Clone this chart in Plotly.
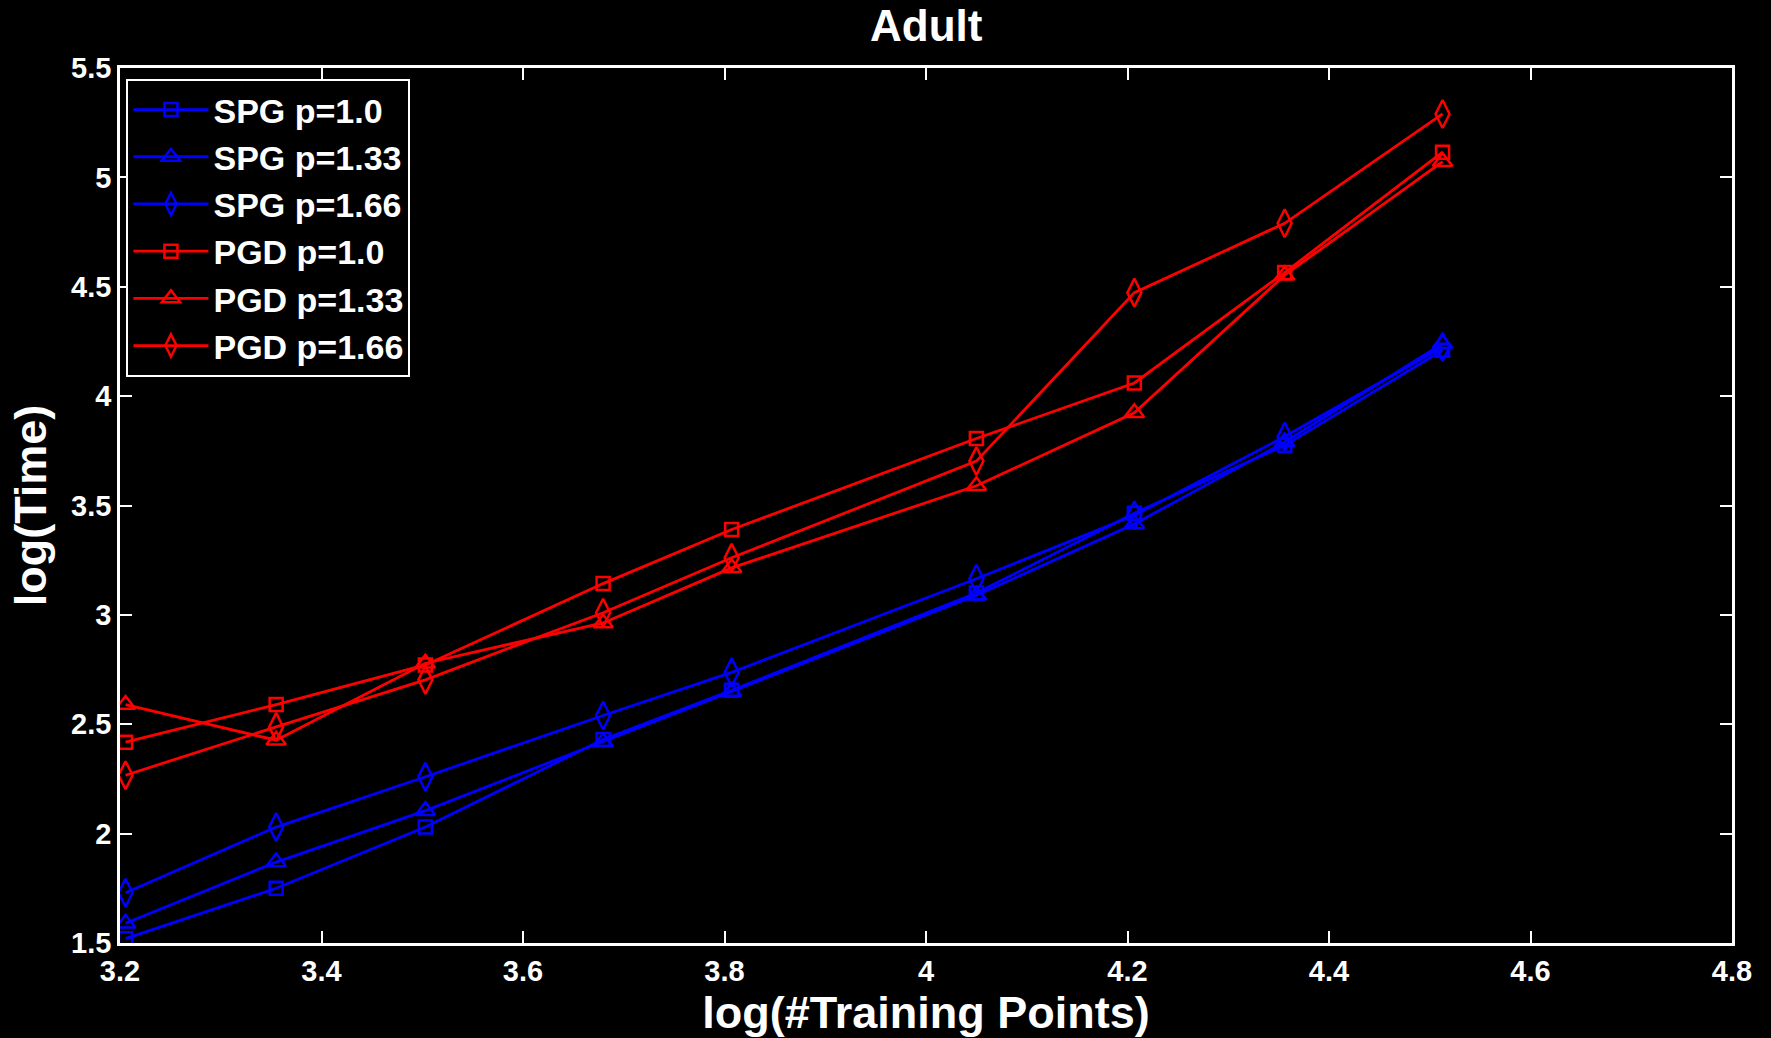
import plotly.graph_objects as go

# log10 of number of training points (Adult a1a..a9a)
x_vals = [3.2055, 3.3550, 3.5031, 3.6795, 3.8071, 4.0500, 4.2068, 4.3560, 4.5127]

spg_p100 = [1.52, 1.75, 2.03, 2.43, 2.655, 3.10, 3.465, 3.775, 4.21]
spg_p133 = [1.59, 1.87, 2.105, 2.42, 2.65, 3.09, 3.415, 3.79, 4.24]
spg_p166 = [1.73, 2.03, 2.26, 2.54, 2.737, 3.165, 3.455, 3.815, 4.225]
pgd_p100 = [2.418, 2.59, 2.771, 3.143, 3.39, 3.806, 4.06, 4.565, 5.115]
pgd_p133 = [2.59, 2.427, 2.779, 2.963, 3.215, 3.59, 3.924, 4.553, 5.072]
pgd_p166 = [2.267, 2.488, 2.703, 3.01, 3.261, 3.703, 4.473, 4.79, 5.29]

series = [
    ("SPG p=1.0", spg_p100, "#0000ff", "square-open", 13),
    ("SPG p=1.33", spg_p133, "#0000ff", "triangle-up-open", 17),
    ("SPG p=1.66", spg_p166, "#0000ff", "diamond-tall-open", 20),
    ("PGD p=1.0", pgd_p100, "#ff0000", "square-open", 13),
    ("PGD p=1.33", pgd_p133, "#ff0000", "triangle-up-open", 17),
    ("PGD p=1.66", pgd_p166, "#ff0000", "diamond-tall-open", 20),
]

FONT = "Liberation Sans, Arial, sans-serif"

fig = go.Figure()
for name, ys, color, sym, sz in series:
    fig.add_trace(go.Scatter(
        x=x_vals, y=ys, name=name, mode="lines+markers",
        line=dict(color=color, width=2.8),
        marker=dict(symbol=sym, size=sz, color=color, line=dict(color=color, width=2.5)),
    ))

axis_common = dict(
    showgrid=False, zeroline=False, showline=True, linecolor="white", linewidth=2.5,
    mirror="ticks", ticks="inside", ticklen=12, tickwidth=2, tickcolor="white",
    tickfont=dict(family=FONT, size=29, color="white", weight="bold"),
)

fig.update_layout(
    width=1771, height=1038,
    paper_bgcolor="black", plot_bgcolor="black",
    margin=dict(l=120, r=39, t=68, b=90),
    font=dict(family=FONT, color="white", weight="bold"),
    title=dict(text="Adult", x=0.523, xanchor="center", y=0.975, yanchor="middle",
               font=dict(family=FONT, size=44, color="white", weight="bold")),
    xaxis=dict(range=[3.2, 4.8], tick0=3.2, dtick=0.2,
               title=dict(text="log(#Training Points)", standoff=8,
                          font=dict(family=FONT, size=45, color="white", weight="bold")),
               **axis_common),
    yaxis=dict(range=[1.5, 5.5], tick0=1.5, dtick=0.5,
               title=dict(text="log(Time)", standoff=11,
                          font=dict(family=FONT, size=45, color="white", weight="bold")),
               **axis_common),
    legend=dict(x=0.004, y=0.9875, xanchor="left", yanchor="top",
                bgcolor="black", bordercolor="white", borderwidth=2,
                font=dict(family=FONT, size=34, color="white", weight="bold"),
                itemwidth=75, tracegroupgap=0),
    showlegend=True,
)

fig.write_html("out.html")
